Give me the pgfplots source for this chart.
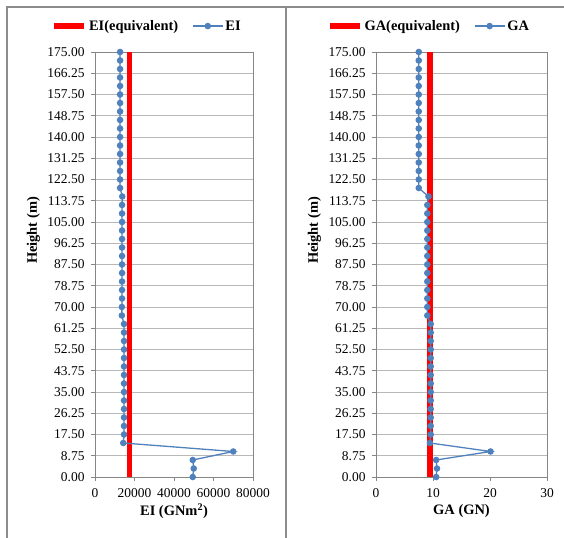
\documentclass[border=0pt]{standalone}
\usepackage{pgfplots}
\pgfplotsset{compat=1.18}
\usepackage{fontspec}
\setmainfont{Liberation Serif}
\definecolor{exblue}{HTML}{4F81BD}
\definecolor{frame}{HTML}{8C8C8C}
\definecolor{axgray}{HTML}{868686}
\definecolor{gridgray}{HTML}{B8B8B8}

\pgfplotstableread{
h EI
0 49500
3.5 50000
7 49500
10.5 70000
14 14300
17.5 14700
21 14700
24.5 14700
28 14700
31.5 14700
35 14700
38.5 14700
42 14700
45.5 14700
49 14700
52.5 14700
56 14700
59.5 14700
63 14700
66.5 13600
70 13600
73.5 13700
77 13700
80.5 13700
84 13700
87.5 13700
91 13700
94.5 13700
98 13700
101.5 13700
105 13700
108.5 13700
112 13700
115.5 13800
119 12700
122.5 12700
126 12700
129.5 12700
133 12700
136.5 12700
140 12700
143.5 12700
147 12700
150.5 12700
154 12700
157.5 12700
161 12700
164.5 12700
168 12700
171.5 12700
175 12700
}\eitable

\pgfplotstableread{
h GA
0 10.55
3.5 10.7
7 10.55
10.5 20.1
14 9.45
17.5 9.6
21 9.6
24.5 9.6
28 9.6
31.5 9.6
35 9.6
38.5 9.6
42 9.6
45.5 9.6
49 9.6
52.5 9.6
56 9.6
59.5 9.6
63 9.6
66.5 9.0
70 9.0
73.5 9.0
77 9.0
80.5 9.0
84 9.0
87.5 9.0
91 9.0
94.5 9.0
98 9.0
101.5 9.0
105 9.0
108.5 9.0
112 9.0
115.5 9.2
119 7.5
122.5 7.5
126 7.5
129.5 7.5
133 7.5
136.5 7.5
140 7.5
143.5 7.5
147 7.5
150.5 7.5
154 7.5
157.5 7.5
161 7.5
164.5 7.5
168 7.5
171.5 7.5
175 7.5
}\gatable

\pgfplotsset{
  panel/.style={
    scale only axis,
    height=425bp,
    ymin=0, ymax=175,
    ytick={0,8.75,...,175},
    yticklabel style={/pgf/number format/fixed, /pgf/number format/fixed zerofill, /pgf/number format/precision=2, xshift=-3bp},
    /pgf/number format/assume math mode=true,
    ticklabel style={font=\fontsize{13.5}{15}\selectfont, text=black},
    ymajorgrids,
    major grid style={gridgray, line width=0.8pt},
    axis line style={axgray, line width=0.8pt},
    tick style={axgray, line width=0.8pt},
    tick align=outside,
    major tick length=4bp,
    xtick pos=bottom, ytick pos=left,
    label style={font=\fontsize{14.5}{16}\selectfont\bfseries},
    legend columns=2,
    legend cell align=left,
    legend style={draw=none, fill=none, font=\fontsize{14.5}{16}\selectfont\bfseries,
      /tikz/every even column/.append style={column sep=12bp}},
    legend image code/.code={
      \draw[#1] (0cm,0cm) -- (30bp,0cm);
      \draw[#1, only marks] plot coordinates {(15bp,0cm)};
    },
    xticklabel style={yshift=-4bp},
  },
  eqline/.style={red, line width=5.5bp},
  dataline/.style={exblue, line width=1.3pt, mark=*, mark size=2.6bp, mark options={fill=exblue, draw=exblue}},
}

\begin{document}
\begin{tikzpicture}[x=1bp, y=1bp]
\useasboundingbox (0,0) rectangle (564,538);
\draw[frame, line width=1.5bp] (7,0) -- (7,531) -- (564,531);
\draw[frame, line width=1.5bp] (286,0) -- (286,531);

\begin{axis}[panel,
  at={(95bp,61bp)}, anchor=south west,
  width=158bp,
  xmin=0, xmax=80000,
  xtick={0,20000,40000,60000,80000},
  scaled x ticks=false,
  xticklabel style={/pgf/number format/fixed, /pgf/number format/precision=0, /pgf/number format/1000 sep={}},
  xlabel={EI (GNm$^{\mathbf{2}}$)},
  ylabel={Height (m)},
  xlabel style={at={(axis description cs:0.5,-0.08)}, anchor=center},
  ylabel style={at={(axis description cs:-0.39,0.58)}, anchor=center},
  legend style={at={(axis description cs:0.33,1.061)}, anchor=center},
]
\addplot[eqline, forget plot] coordinates {(17400,0) (17400,175)};
\addlegendimage{eqline, mark=none}
\addlegendentry{EI(equivalent)}
\addplot[dataline] table[x=EI, y=h] {\eitable};
\addlegendentry{EI}
\end{axis}

\begin{axis}[panel,
  at={(376bp,61bp)}, anchor=south west,
  width=171bp,
  xmin=0, xmax=30,
  xtick={0,10,20,30},
  xlabel={GA (GN)},
  ylabel={Height (m)},
  xlabel style={at={(axis description cs:0.5,-0.08)}, anchor=center},
  ylabel style={at={(axis description cs:-0.36,0.58)}, anchor=center},
  legend style={at={(axis description cs:0.31,1.061)}, anchor=center},
]
\addplot[eqline, forget plot] coordinates {(9.5,0) (9.5,175)};
\addlegendimage{eqline, mark=none}
\addlegendentry{GA(equivalent)}
\addplot[dataline] table[x=GA, y=h] {\gatable};
\addlegendentry{GA}
\end{axis}
\end{tikzpicture}
\end{document}
